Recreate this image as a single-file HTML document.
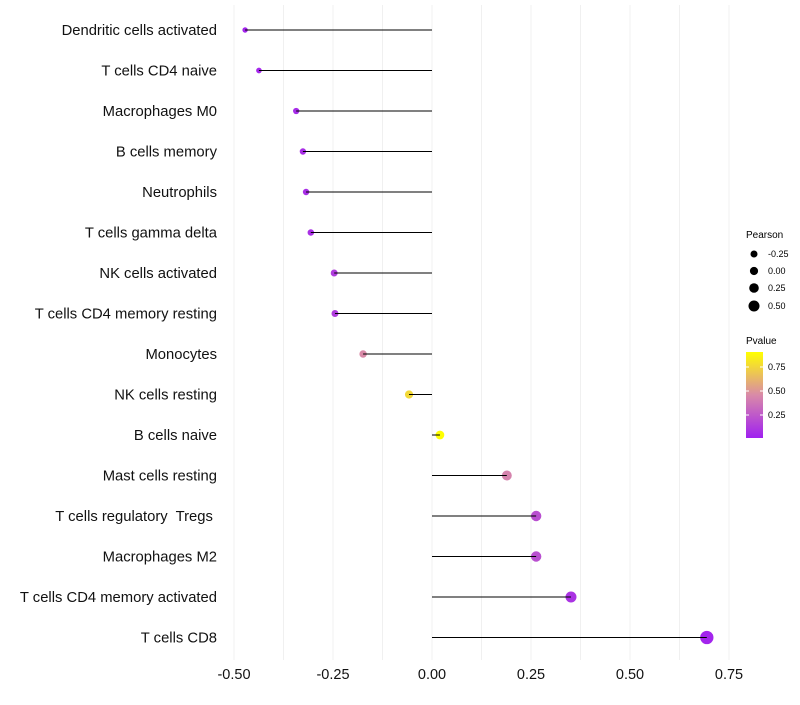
<!DOCTYPE html>
<html><head><meta charset="utf-8"><style>
body{margin:0;background:#fff;font-family:"Liberation Sans",sans-serif}
text{white-space:pre}
</style></head><body>
<svg id="c" width="800" height="700" xmlns="http://www.w3.org/2000/svg">
<defs><linearGradient id="pg" x1="0" y1="1" x2="0" y2="0">
<stop offset="0" stop-color="#a020f0"/><stop offset="0.5" stop-color="#d98aa8"/><stop offset="1" stop-color="#ffff00"/></linearGradient></defs>
<g id="grid"></g><g id="marks"></g><g id="labels"></g><g id="ticks"></g>
<g font-size="9">
<text x="746" y="238" font-size="10">Pearson</text>
<circle cx="754" cy="254" r="3.5"/><text x="768" y="257">-0.25</text>
<circle cx="754" cy="271" r="4.1"/><text x="768" y="274">0.00</text>
<circle cx="754" cy="288" r="4.8"/><text x="768" y="291">0.25</text>
<circle cx="754" cy="306" r="5.5"/><text x="768" y="309">0.50</text>
<text x="746" y="344" font-size="10">Pvalue</text>
<rect x="746" y="352" width="17" height="86" fill="url(#pg)"/>
<g stroke="#fff" stroke-width="1"><line x1="746" y1="367" x2="749" y2="367"/><line x1="760" y1="367" x2="763" y2="367"/><line x1="746" y1="391" x2="749" y2="391"/><line x1="760" y1="391" x2="763" y2="391"/><line x1="746" y1="415" x2="749" y2="415"/><line x1="760" y1="415" x2="763" y2="415"/></g>
<text x="768" y="370">0.75</text><text x="768" y="394">0.50</text><text x="768" y="418">0.25</text>
</g>
</svg>
<script>
const cells=["Dendritic cells activated","T cells CD4 naive","Macrophages M0","B cells memory","Neutrophils","T cells gamma delta","NK cells activated","T cells CD4 memory resting","Monocytes","NK cells resting","B cells naive","Mast cells resting","T cells regulatory  Tregs ","Macrophages M2","T cells CD4 memory activated","T cells CD8"];
const pearson=[-0.472,-0.437,-0.343,-0.326,-0.318,-0.306,-0.247,-0.245,-0.174,-0.058,0.02,0.189,0.263,0.263,0.351,0.694];
const pvalue=[0.02,0.03,0.05,0.06,0.06,0.07,0.12,0.12,0.45,0.75,0.95,0.42,0.2,0.2,0.08,0.02];
const xticks=[-0.5,-0.25,0,0.25,0.5,0.75];
const NS="http://www.w3.org/2000/svg";
const x=v=>432+v*396;
const y=i=>30+i*40.5;
const rad=p=>4.3+3.4*p;
function mix(a,b,t){return a.map((v,k)=>Math.round(v+(b[k]-v)*t));}
function col(p){const s=[[160,32,240],[217,138,168],[255,255,0]];const t=Math.min(Math.max(p/0.9,0),1)*2;const k=t<1?0:1;const c=mix(s[k],s[k+1],t-k);return `rgb(${c})`;}
function el(t,a,parent){const e=document.createElementNS(NS,t);for(const k in a)e.setAttribute(k,a[k]);document.getElementById(parent).appendChild(e);return e;}
for(let v=-0.5;v<=0.751;v+=0.125){const g=el('line',{x1:x(v),x2:x(v),y1:5,y2:660,stroke:'#f0f0f0','stroke-width':1},'grid');

}
xticks.forEach(v=>{const t=el('text',{x:x(v),y:679,'text-anchor':'middle','font-size':14.5,fill:'#111'},'ticks');t.textContent=v.toFixed(2);

});
cells.forEach((c,i)=>{
const t=el('text',{x:217,y:y(i)+5,'text-anchor':'end','font-size':14.8,fill:'#111'},'labels');t.textContent=c;


const d=el('circle',{cx:x(pearson[i]),cy:y(i),r:rad(pearson[i]),fill:col(pvalue[i])},'marks');


const l=el('line',{x1:x(0),x2:x(pearson[i]),y1:y(i),y2:y(i),stroke:'#000','stroke-width':1},'marks');


});
</script>
</body></html>
